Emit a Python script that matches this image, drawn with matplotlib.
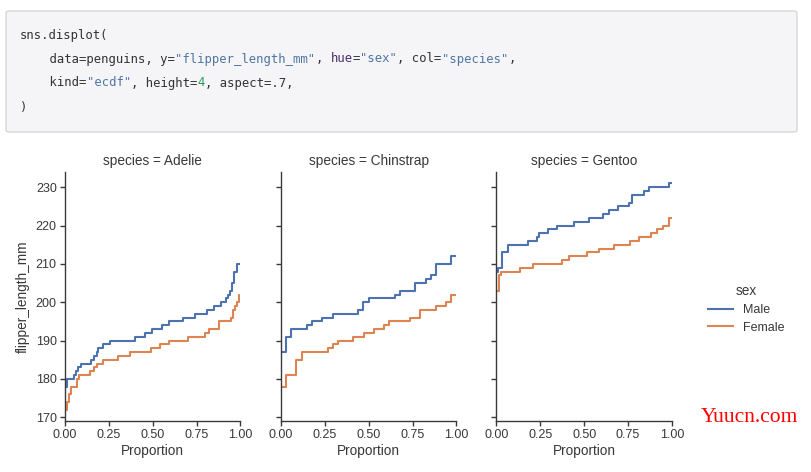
import numpy as np
import matplotlib
matplotlib.use("Agg")
import matplotlib.pyplot as plt
from matplotlib.patches import FancyBboxPatch
from matplotlib.lines import Line2D

# ---- data: step level (mm) and proportion where it ends ----
species = ["Adelie", "Chinstrap", "Gentoo"]
sexes = ["Male", "Female"]

adelie_male_mm = [178, 180, 181, 182, 183, 184, 185, 186, 187, 188, 189, 190, 191,
                  192, 193, 194, 195, 196, 197, 198, 199, 200, 201, 202, 203, 205, 208, 210]
adelie_male_prop = [0.01, 0.05, 0.06, 0.075, 0.09, 0.15, 0.165, 0.18, 0.19, 0.215, 0.255,
                    0.40, 0.455, 0.495, 0.55, 0.595, 0.675, 0.74, 0.81, 0.85, 0.89, 0.915,
                    0.93, 0.94, 0.95, 0.965, 0.98, 1.0]
adelie_female_mm = [172, 174, 176, 178, 180, 181, 182, 183, 184, 185, 186, 187, 188,
                    189, 190, 191, 192, 193, 195, 196, 198, 199, 200, 202]
adelie_female_prop = [0.01, 0.02, 0.033, 0.068, 0.08, 0.14, 0.165, 0.18, 0.215, 0.30, 0.37,
                      0.49, 0.54, 0.59, 0.70, 0.80, 0.82, 0.875, 0.945, 0.96, 0.97, 0.98,
                      0.99, 1.0]

chinstrap_male_mm = [187, 191, 193, 194, 195, 196, 197, 198, 200, 201, 202, 203, 205,
                     206, 207, 210, 212]
chinstrap_male_prop = [0.029, 0.059, 0.147, 0.176, 0.235, 0.294, 0.441, 0.47, 0.5, 0.647,
                       0.676, 0.765, 0.824, 0.853, 0.882, 0.97, 1.0]
chinstrap_female_mm = [178, 181, 185, 187, 188, 189, 190, 191, 192, 193, 194, 195, 196,
                       198, 199, 200, 202]
chinstrap_female_prop = [0.029, 0.088, 0.118, 0.265, 0.294, 0.324, 0.412, 0.471, 0.529,
                         0.588, 0.618, 0.735, 0.794, 0.882, 0.941, 0.971, 1.0]

gentoo_male_mm = [208, 209, 213, 215, 216, 217, 218, 219, 220, 221, 222, 223, 224, 225,
                  226, 228, 229, 230, 231]
gentoo_male_prop = [0.01, 0.03, 0.065, 0.18, 0.23, 0.245, 0.295, 0.345, 0.44, 0.525, 0.607,
                    0.64, 0.69, 0.755, 0.77, 0.84, 0.87, 0.984, 1.0]
gentoo_female_mm = [203, 207, 208, 209, 210, 211, 212, 213, 214, 215, 216, 217, 218, 219,
                    220, 222]
gentoo_female_prop = [0.012, 0.026, 0.134, 0.207, 0.373, 0.414, 0.518, 0.586, 0.672, 0.758,
                      0.81, 0.879, 0.914, 0.948, 0.983, 1.0]

curves = {
    "Adelie": [(adelie_male_prop, adelie_male_mm), (adelie_female_prop, adelie_female_mm)],
    "Chinstrap": [(chinstrap_male_prop, chinstrap_male_mm), (chinstrap_female_prop, chinstrap_female_mm)],
    "Gentoo": [(gentoo_male_prop, gentoo_male_mm), (gentoo_female_prop, gentoo_female_mm)],
}
colors = ["#4c72b0", "#dd8452"]
x_ticks = [0.0, 0.25, 0.5, 0.75, 1.0]
y_ticks = [170, 180, 190, 200, 210, 220, 230]

code_lines = [
    [("sns.displot(", "#333333")],
    [("    data=penguins, y=", "#333333"), ('"flipper_length_mm"', "#4f76a3"),
     (", ", "#333333"), ("hue", "#4a2f6b"), ("=", "#333333"), ('"sex"', "#4f76a3"),
     (", col=", "#333333"), ('"species"', "#4f76a3"), (",", "#333333")],
    [("    kind=", "#333333"), ('"ecdf"', "#4f76a3"), (", height=", "#333333"),
     ("4", "#2e9a5a"), (", aspect=.7,", "#333333")],
    [(")", "#333333")],
]

plt.rcParams["font.family"] = ["Liberation Sans", "DejaVu Sans"]
text_col = "#383838"

W, H = 812, 472
fig = plt.figure(figsize=(W / 100, H / 100), dpi=100)

def fx(px):
    return px / W

def fy(py):
    return 1 - py / H

# ---- code block ----
box = FancyBboxPatch((fx(6), fy(132)), fx(791), 121 / H,
                     boxstyle="round,pad=0,rounding_size=0.004",
                     transform=fig.transFigure, facecolor="#f5f5f7",
                     edgecolor="#d6d6d8", linewidth=1.0)
fig.patches.append(box)
cw = 7.4
line_y = [35, 59, 83, 107]
for ly, segs in zip(line_y, code_lines):
    i = 0
    for s, c in segs:
        fig.text(fx(20 + i * cw), fy(ly), s, family="DejaVu Sans Mono", fontsize=8.85,
                 color=c, va="center", ha="left")
        i += len(s)

# ---- ecdf panels ----
lefts = [65, 281, 496.5]
top, bottom, pw = 172, 421, 175.5
for k, sp in enumerate(species):
    ax = fig.add_axes([fx(lefts[k]), fy(bottom), pw / W, (bottom - top) / H])
    for (prop, mm), c in zip(curves[sp], colors):
        xs = np.r_[0, prop]
        ys = np.r_[mm[0], mm]
        ax.plot(xs, ys, drawstyle="steps-pre", color=c, lw=1.5)
    ax.set_xlim(0, 1)
    ax.set_ylim(169.05, 233.95)
    ax.set_xticks(x_ticks)
    ax.set_xticklabels(["%.2f" % t for t in x_ticks])
    ax.set_yticks(y_ticks)
    if k > 0:
        ax.set_yticklabels([])
    else:
        ax.set_ylabel("flipper_length_mm", fontsize=9.8, color=text_col, labelpad=4)
    ax.set_xlabel("Proportion", fontsize=9.8, color=text_col, labelpad=2)
    ax.set_title("species = " + sp, fontsize=9.8, color=text_col, pad=5)
    for s in ["top", "right"]:
        ax.spines[s].set_visible(False)
    for s in ["left", "bottom"]:
        ax.spines[s].set_color("#3a3a3a")
        ax.spines[s].set_linewidth(1.0)
    ax.tick_params(direction="out", length=3.4, width=1.0, color="#3a3a3a",
                   labelsize=9, labelcolor=text_col, pad=2.5)
    ax.set_facecolor("none")

handles = [Line2D([], [], color=c, lw=1.5) for c in colors]
leg = fig.legend(handles, sexes, title="sex", loc="center left",
                 bbox_to_anchor=(fx(697), fy(309)), frameon=False, fontsize=9,
                 title_fontsize=9.8, handlelength=2.0, handletextpad=0.8,
                 labelspacing=0.45)
for t in leg.get_texts():
    t.set_color(text_col)
leg.get_title().set_color(text_col)

fig.text(fx(701), fy(417), "Yuucn.com", family="Liberation Serif", fontsize=15.5,
         color="#ff0000", va="center", ha="left")

fig.savefig("out.png", dpi=100, facecolor="white")
